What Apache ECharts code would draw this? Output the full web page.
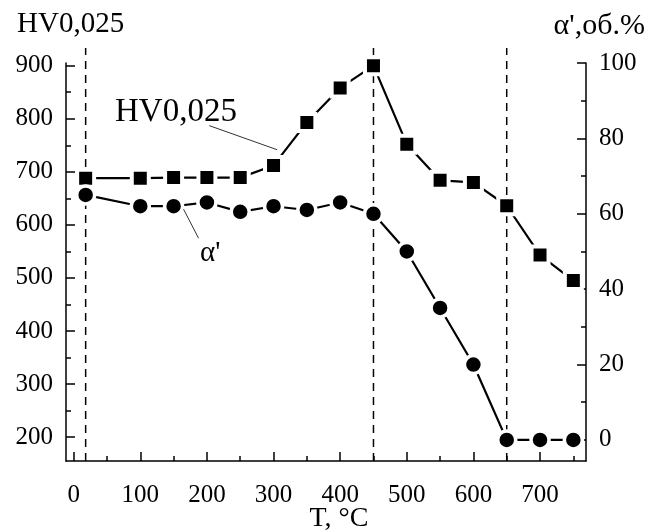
<!DOCTYPE html>
<html>
<head>
<meta charset="utf-8">
<script src="https://cdn.jsdelivr.net/npm/echarts@6/dist/echarts.min.js"></script>
<style>
  html, body { margin: 0; padding: 0; background: #fff; }
  #chart { width: 648px; height: 531px; }
</style>
</head>
<body>
<div id="chart"></div>
<script>
// температура отжига, °C
var temps = [18, 100, 150, 200, 250, 300, 350, 400, 450, 500, 550, 600, 650, 700, 750];
// микротвердость HV0,025
var hvValues = [688, 688, 689, 689, 689, 712, 793, 858, 900, 752, 684, 680, 636, 543, 495];
// доля альфа-штрих фазы, об.%
var alphaValues = [65, 62, 62, 63, 60.5, 62, 61, 63, 60, 50, 35, 20, 0, 0, 0];
// вертикальные пунктирные линии
var guideTemps = [18, 450, 650];

var xMajor = [0, 100, 200, 300, 400, 500, 600, 700];
var xMinor = [50, 150, 250, 350, 450, 550, 650, 750];
var hvMajor = [200, 300, 400, 500, 600, 700, 800, 900];
var hvMinor = [250, 350, 450, 550, 650, 750, 850];
var alphaMajor = [0, 20, 40, 60, 80, 100];
var alphaMinor = [10, 30, 50, 70, 90];

var FONT = 'Liberation Serif';
var black = '#000';

function zip(xs, ys) {
  return xs.map(function (x, i) { return [x, ys[i]]; });
}

var myChart = echarts.init(document.getElementById('chart'), null, { renderer: 'canvas' });

var xRange = { min: -11.5, max: 769 };
var hvRange = { min: 155, max: 905 };
var alphaRange = { min: -5.6, max: 100 };

// длина малых делений в единицах осей (~5 px)
var minorLen = { x: 7.5, hv: 9.4, alpha: 1.33 };

function hiddenAxis(extra) {
  return Object.assign({
    type: 'value',
    axisLine: { show: false, onZero: false },
    axisTick: { show: false },
    axisLabel: { show: false },
    splitLine: { show: false }
  }, extra);
}

function mainAxis(extra, ticks, margin) {
  return Object.assign({
    type: 'value',
    axisLine: { show: true, onZero: false, lineStyle: { color: black, width: 1.5 } },
    axisTick: { show: true, inside: true, length: 9, customValues: ticks, lineStyle: { color: black, width: 1.5 } },
    axisLabel: { show: true, customValues: ticks, margin: margin, color: black, fontFamily: FONT, fontSize: 25 },
    splitLine: { show: false }
  }, extra);
}

var xAxes = [
  mainAxis({ gridIndex: 0, position: 'bottom', min: xRange.min, max: xRange.max }, xMajor, 22),
  // ось для пунктиров
  hiddenAxis({ gridIndex: 1, min: xRange.min, max: xRange.max })
];

var yAxes = [
  mainAxis({ gridIndex: 0, position: 'left', min: hvRange.min, max: hvRange.max }, hvMajor, 13),
  mainAxis({ gridIndex: 0, position: 'right', min: alphaRange.min, max: alphaRange.max }, alphaMajor, 13),
  hiddenAxis({ gridIndex: 1, min: 0, max: 1 })
];

var guideSeries = guideTemps.map(function (t) {
  return {
    type: 'line', xAxisIndex: 1, yAxisIndex: 2,
    data: [[t, 0], [t, 1]],
    symbol: 'none', silent: true, z: 1,
    lineStyle: { color: black, width: 1.5, type: [8, 6] }
  };
});

// малые деления как отрезки markLine у краёв поля
var hvMinorLines = xMinor.map(function (v) {
  return [{ coord: [v, hvRange.min] }, { coord: [v, hvRange.min + minorLen.hv] }];
}).concat(hvMinor.map(function (v) {
  return [{ coord: [xRange.min, v] }, { coord: [xRange.min + minorLen.x, v] }];
}));
var alphaMinorLines = alphaMinor.map(function (v) {
  return [{ coord: [xRange.max - minorLen.x, v] }, { coord: [xRange.max, v] }];
});

function tickMarkLines(segments) {
  return segments.map(function (seg) {
    return [
      Object.assign({ lineStyle: { color: black, width: 1.5, type: 'solid' } }, seg[0]),
      seg[1]
    ];
  });
}

var leaderStyle = { lineStyle: { color: '#333', width: 1, type: 'solid' } };

var option = {
  animation: false,
  backgroundColor: '#fff',
  grid: [
    { left: 66, right: 62, top: 63, bottom: 70 },
    { left: 66, right: 62, top: 48, bottom: 70 }
  ],
  xAxis: xAxes,
  yAxis: yAxes,
  series: guideSeries.concat([
    {
      name: 'HV0,025', type: 'line',
      xAxisIndex: 0, yAxisIndex: 0,
      data: zip(temps, hvValues),
      symbol: 'rect', symbolSize: 17, z: 3,
      itemStyle: { color: black, borderColor: '#fff', borderWidth: 4 },
      lineStyle: { color: black, width: 2.2 },
      markLine: {
        silent: true, symbol: 'none',
        label: { show: false },
        data: [[Object.assign({ coord: [203.5, 787] }, leaderStyle), { coord: [305.5, 741.5] }]]
          .concat(tickMarkLines(hvMinorLines))
      }
    },
    {
      name: "α'", type: 'line',
      xAxisIndex: 0, yAxisIndex: 1,
      data: zip(temps, alphaValues),
      symbol: 'circle', symbolSize: 18, z: 3,
      itemStyle: { color: black, borderColor: '#fff', borderWidth: 3.5 },
      lineStyle: { color: black, width: 2.2 },
      markLine: {
        silent: true, symbol: 'none',
        label: { show: false },
        data: [[Object.assign({ coord: [165, 61.2] }, leaderStyle), { coord: [187.5, 53.5] }]]
          .concat(tickMarkLines(alphaMinorLines))
      }
    }
  ]),
  graphic: [
    { type: 'text', left: 17, top: 10, style: { text: 'HV0,025', fontFamily: FONT, fontSize: 29, fill: black } },
    { type: 'text', right: 3, top: 11, style: { text: "α',об.%", fontFamily: FONT, fontSize: 30, fill: black } },
    { type: 'text', x: 339, y: 519, style: { text: 'T, °C', fontFamily: FONT, fontSize: 28, fill: black, textAlign: 'center', textVerticalAlign: 'middle' } },
    { type: 'text', x: 115, y: 112, style: { text: 'HV0,025', fontFamily: FONT, fontSize: 33, fill: black, textVerticalAlign: 'middle' } },
    { type: 'text', x: 200, y: 253, style: { text: "α'", fontFamily: FONT, fontSize: 29, fill: black, textVerticalAlign: 'middle' } }
  ]
};

myChart.setOption(option);
</script>
</body>
</html>
